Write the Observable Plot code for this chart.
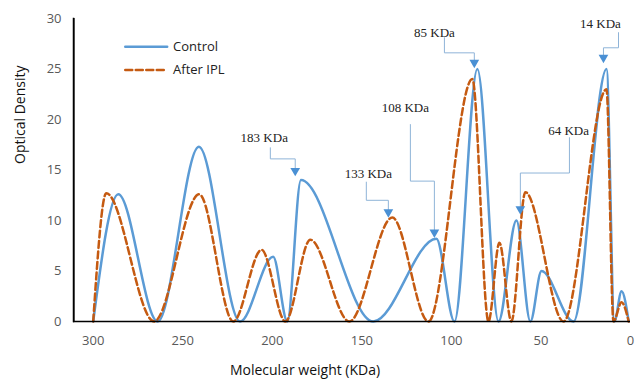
<!DOCTYPE html>
<html><head><meta charset="utf-8">
<script src="https://cdn.jsdelivr.net/npm/d3@7"></script>
<script src="https://cdn.jsdelivr.net/npm/@observablehq/plot@0.6"></script>
<style>body{margin:0;background:#fff;} #c{width:638px;height:379px;}</style>
</head><body><div id="c"></div>
<script>
// Control (blue) – molecular weight (KDa) and optical density
const controlKDa = [300, 286, 264, 241, 218, 199.5, 191.6, 184, 143.6, 108.4, 98.3, 85.5, 73.7, 63.7, 55.9, 49.7, 31.8, 13.4, 9, 5, 1];
const controlOD  = [0, 12.6, 0, 17.3, 0, 6.4, 0, 14, 0, 8.2, 0, 25, 0, 10, 0, 5.0, 0, 25, 0, 3.0, 0];
// After IPL (orange dashed)
const iplKDa = [300, 292.7, 266, 240.8, 221.8, 206, 192.7, 178.8, 157, 133, 112.8, 88.3, 79.3, 73.2, 66.5, 58.7, 37.4, 13.4, 9.5, 5, 1];
const iplOD  = [0, 12.7, 0, 12.6, 0, 7.1, 0, 8.1, 0, 10.3, 0, 24, 0, 7.8, 0, 12.8, 0, 23, 0, 1.9, 0];

const xTicks = [300, 250, 200, 150, 100, 50, 0];
const yTicks = [0, 5, 10, 15, 20, 25, 30];
const xTitle = "Molecular weight (KDa)";
const yTitle = "Optical Density";

// Annotations: label, text position, callout path (kda, od)
const annLabels = ["183 KDa", "85 KDa", "14 KDa", "108 KDa", "133 KDa", "64 KDa"];
const annTextKDa = [204.5, 109.5, 16.8, 125.7, 146.4, 34.6];
const annTextOD  = [18.2, 28.6, 29.5, 21.2, 14.6, 18.9];
const annPathKDa = [[201.1, 201.1, 187.2, 187.2], [103.9, 103.9, 87.2, 87.2], [6.7, 6.7, 15.1, 15.1], [122.9, 122.9, 109.5, 109.5], [147.5, 147.5, 135.2, 135.2], [34.1, 34.1, 61.5, 61.5]];
const annPathOD  = [[17.2, 16.1, 16.1, 15.0], [28.1, 26.6, 26.6, 25.7], [28.6, 27.1, 27.1, 26.2], [19.5, 13.9, 13.9, 8.9], [13.8, 12.0, 12.0, 10.9], [18.2, 14.7, 14.7, 11.2]];
const annTipOD   = [14.4, 25.1, 25.6, 8.3, 10.3, 10.6];

// Legend
const legendNames = ["Control", "After IPL"];
const legendKDa = [282.1, 258.7];
const legendOD = [27.2, 24.9];
const legendTextKDa = 255.4;

const xMax = 311;
const blue = "#5b9bd5", orange = "#c55a11";
const dash = "7,3.5";

const control = controlKDa.map((k, i) => ({k, v: controlOD[i]}));
const ipl = iplKDa.map((k, i) => ({k, v: iplOD[i]}));
const annText = annLabels.map((t, i) => ({t, k: annTextKDa[i], v: annTextOD[i]}));
const annPath = annLabels.flatMap((t, i) => annPathKDa[i].map((k, j) => ({t, k, v: annPathOD[i][j]})));
const annTip = annLabels.map((t, i) => ({t, k: annPathKDa[i][3], v: annTipOD[i] + 0.53}));
const legCtrl = legendKDa.map(k => ({k, v: legendOD[0]}));
const legIpl = legendKDa.map(k => ({k, v: legendOD[1]}));
const legText = legendNames.map((n, i) => ({n, k: legendTextKDa, v: legendOD[i]}));

const chart = Plot.plot({
  width: 638, height: 379,
  marginLeft: 73, marginRight: 8, marginTop: 18, marginBottom: 58,
  style: {fontFamily: "Open Sans", fontSize: "13px", background: "#fff"},
  x: {domain: [xMax, 0], label: null},
  y: {domain: [0, 30], label: null},
  marks: [
    Plot.axisX({ticks: xTicks, tickSize: 0, tickPadding: 14, fill: "#595959", fontSize: 13, label: null}),
    Plot.axisY({ticks: yTicks, tickSize: 0, tickPadding: 12, fill: "#595959", fontSize: 13, label: null}),
    Plot.text([xTitle], {frameAnchor: "bottom", dx: -47, dy: 49, lineAnchor: "middle", fontSize: 14, fill: "#111"}),
    Plot.text([yTitle], {frameAnchor: "left", rotate: -90, dx: -53, dy: -6, lineAnchor: "middle", fontSize: 14, fill: "#111"}),
    Plot.line(control, {x: "k", y: "v", curve: "monotone-x", stroke: blue, strokeWidth: 2.5}),
    Plot.line(ipl, {x: "k", y: "v", curve: "monotone-x", stroke: orange, strokeWidth: 2.5, strokeDasharray: dash}),
    Plot.line(annPath, {x: "k", y: "v", z: "t", stroke: "#8fb4d8", strokeWidth: 1}),
    Plot.dot(annTip, {x: "k", y: "v", symbol: "triangle", rotate: 180, r: 3.6, fill: "#4a90d4", stroke: "none"}),
    Plot.text(annText, {x: "k", y: "v", text: "t", fontFamily: "Liberation Serif", fontSize: 13, fill: "#222"}),
    Plot.line(legCtrl, {x: "k", y: "v", stroke: blue, strokeWidth: 2.5}),
    Plot.line(legIpl, {x: "k", y: "v", stroke: orange, strokeWidth: 2.5, strokeDasharray: dash}),
    Plot.text(legText, {x: "k", y: "v", text: "n", textAnchor: "start", fill: "#222", fontSize: 13}),
    Plot.ruleY([0], {stroke: "#000", strokeWidth: 1.5}),
    Plot.frame({anchor: "left", stroke: "#000", strokeWidth: 1.5}),
    Plot.ruleX([xMax - 0.2], {y1: 0, y2: 30, stroke: "#000", strokeWidth: 1.5})
  ]
});
document.getElementById("c").appendChild(chart);
</script>
</body></html>
